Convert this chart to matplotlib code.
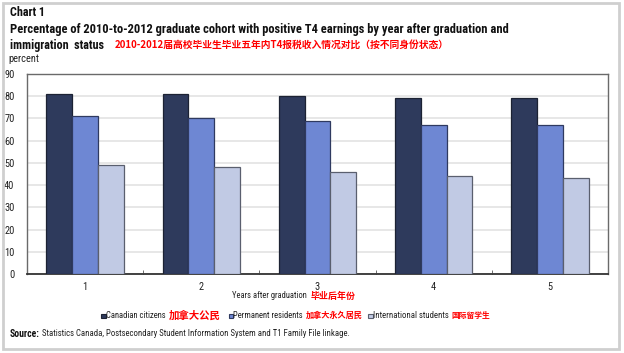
import numpy as np
import matplotlib
matplotlib.use('Agg')
import matplotlib.pyplot as plt
from matplotlib.patches import Rectangle

# data (percent)
years = ['1', '2', '3', '4', '5']
canadian = [81, 81, 80, 79, 79]
permanent = [71, 70, 69, 67, 67]
international = [49, 48, 46, 44, 43]

series_names = ['Canadian citizens', 'Permanent residents', 'International students']
series_cn = ['加拿大公民', '加拿大永久居民', '国际留学生']
colors = ['#2e3a5c', '#6e87d3', '#c1cae4']
edges = ['#1c2233', '#2f3a60', '#5a5f6e']

W, H = 624, 353
fig = plt.figure(figsize=(W / 100, H / 100), dpi=100)
plt.rcParams['font.family'] = ['Roboto Condensed', 'DejaVu Sans']
cjk = ['Noto Sans CJK SC', 'DejaVu Sans']
renderer = fig.canvas.get_renderer()

def fx(x):
    return x / W

def fy(y):
    return 1 - y / H

def put(x0, x1, y, s, size, **kw):
    # place a text so that it spans x0..x1 pixels
    t = fig.text(fx(x0), fy(y), s, fontsize=size, va='center', **kw)
    for _ in range(3):
        w = t.get_window_extent(renderer).width
        t.set_fontsize(t.get_fontsize() * (x1 - x0) / w)
    return t

# outer frame
fig.patches.append(Rectangle((fx(3), fy(349)), fx(616), 346 / H, transform=fig.transFigure,
                             fill=False, edgecolor='#cfcfcf', linewidth=2))

ax = fig.add_axes([fx(27), fy(274), fx(608 - 27), (274 - 74) / H])

x = np.arange(len(years))
bw = 0.222
for i, vals in enumerate([canadian, permanent, international]):
    ax.bar(x + (i - 1) * bw, vals, bw, color=colors[i], edgecolor=edges[i], linewidth=0.9, zorder=3)

ax.set_xlim(-0.5, len(years) - 0.5)
ax.set_ylim(0, 90)
ax.set_yticks(range(0, 91, 10))
ax.yaxis.grid(True, color='#e3e3e3', linewidth=1.2, zorder=0)
ax.set_axisbelow(True)
ax.tick_params(axis='y', length=0, labelsize=7.5, pad=9, colors='#222222')
ax.set_xticks(x)
ax.set_xticklabels(years)
ax.tick_params(axis='x', length=0, labelsize=7.5, pad=6, colors='#222222')
ax.set_xticks(np.arange(0.5, len(years) - 1, 1), minor=True)
ax.tick_params(axis='x', which='minor', direction='in', length=3, color='#555555')
for s in ax.spines.values():
    s.set_color('#6a6a6a')
    s.set_linewidth(1)
ax.spines['bottom'].set_color('#333333')
ax.spines['bottom'].set_linewidth(1.3)

# titles
put(10, 45, 13, 'Chart 1', 10, fontweight='bold', color='#111111')
put(10, 507, 30, 'Percentage of 2010-to-2012 graduate cohort with positive T4 earnings by year after graduation and',
    10, fontweight='bold', color='#111111')
put(10, 104, 45, 'immigration  status', 10, fontweight='bold', color='#111111')
put(115, 450, 45, '2010-2012届高校毕业生毕业五年内T4报税收入情况对比（按不同身份状态）',
    8, fontweight='bold', color='#ff0000', family=cjk)
put(8, 39, 59, 'percent', 7, color='#222222')

# x axis title
put(232, 307, 296, 'Years after graduation', 7, color='#222222')
put(311, 356, 296, '毕业后年份', 7, fontweight='bold', color='#ff0000', family=cjk)

# legend
sq_x = [101, 229, 368]
txt = [(106, 166), (233, 304), (373, 448)]
cn = [(169, 221), (306, 363), (451, 490)]
for i in range(3):
    fig.patches.append(Rectangle((fx(sq_x[i]), fy(318)), 4.5 / W, 4.5 / H, transform=fig.transFigure,
                                 facecolor=colors[i], edgecolor=edges[i], linewidth=0.8))
    put(txt[i][0], txt[i][1], 315.5, series_names[i], 7, color='#222222')
    put(cn[i][0], cn[i][1], 315.5, series_cn[i], 7, fontweight='bold', color='#ff0000', family=cjk)

# source
put(10, 40, 334, 'Source:', 7, fontweight='bold', color='#111111')
put(42, 346, 334, 'Statistics Canada, Postsecondary Student Information System and T1 Family File linkage.',
    7, color='#222222')

fig.savefig('out.png', dpi=100)
